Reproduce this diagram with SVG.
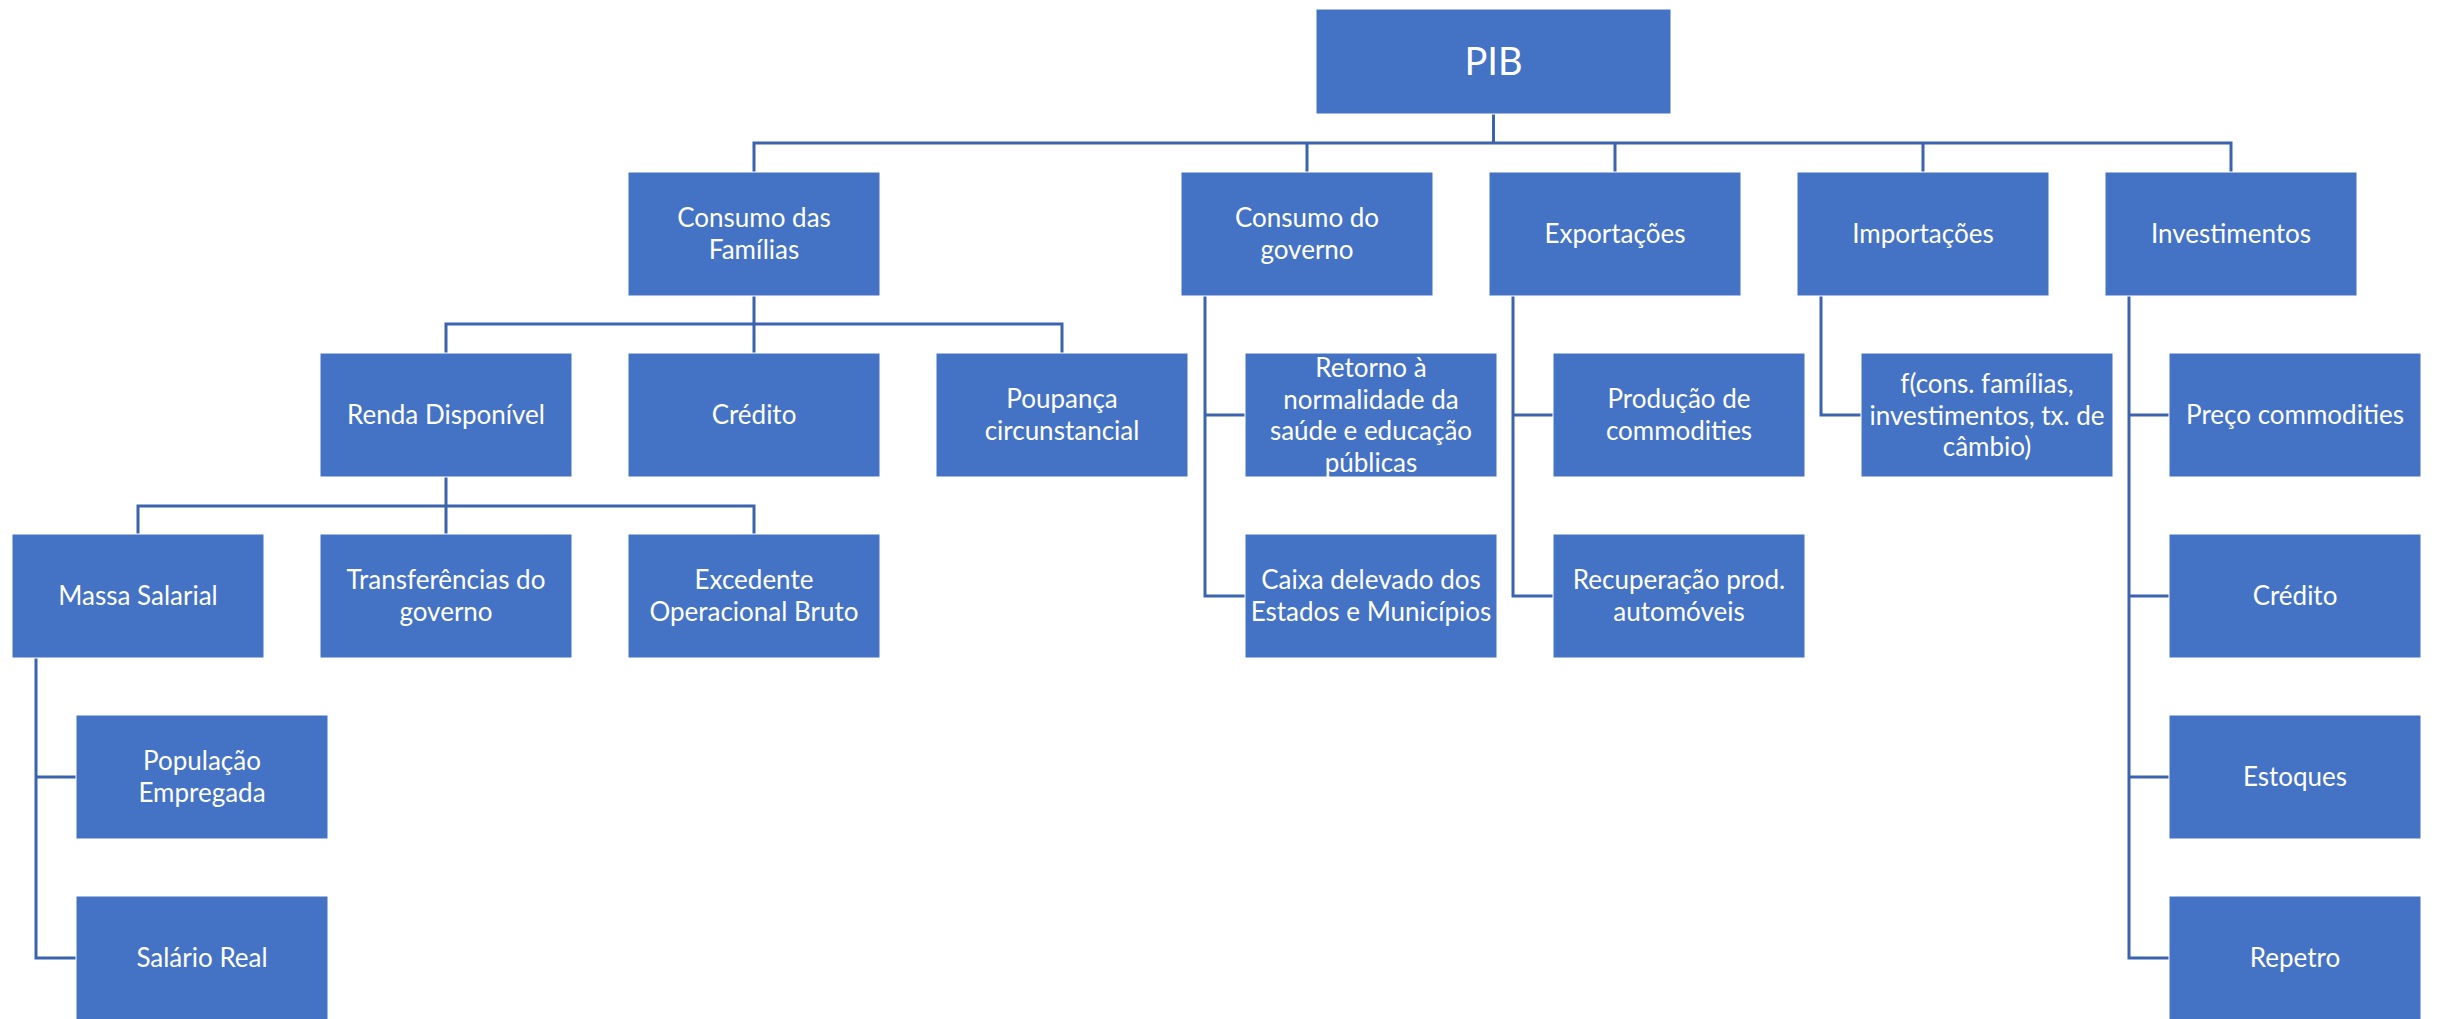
<svg xmlns="http://www.w3.org/2000/svg" width="2440" height="1019" viewBox="0 0 2440 1019">
<style>
.b{fill:#4472C4;stroke:#ffffff;stroke-width:1}
.t{font-family:Lato,"Open Sans","Liberation Sans",sans-serif;font-size:26px;fill:#ffffff;text-anchor:middle}
.big{font-size:38px}
.c{fill:none;stroke:#3C64AE;stroke-width:3}
</style>
<rect width="2440" height="1019" fill="#ffffff"/>
<g id="connectors" class="c">
<path d="M1493.5 114V143M754 172V143H2231V172M1307 143V172M1615 143V172M1923 143V172"/>
<path d="M754 296V324M446 353V324H1062V353M754 324V353"/>
<path d="M446 477V506M138 534V506H754V534M446 506V534"/>
<path d="M36 658V958H76M36 777H76"/>
<path d="M1205 296V596H1245M1205 415H1245"/>
<path d="M1513 296V596H1553M1513 415H1553"/>
<path d="M1821 296V415H1861"/>
<path d="M2129 296V958H2169M2129 415H2169M2129 596H2169M2129 777H2169"/>
</g>
<g id="pib"><rect class="b" x="1316" y="9" width="355" height="105"/><text class="t big" x="1493.5" y="75">PIB</text></g>
<g id="consumo-familias"><rect class="b" x="628" y="172" width="252" height="124"/><text class="t" x="754" y="227">Consumo das<tspan x="754" dy="31.6">Famílias</tspan></text></g>
<g id="consumo-governo"><rect class="b" x="1181" y="172" width="252" height="124"/><text class="t" x="1307" y="227">Consumo do<tspan x="1307" dy="31.6">governo</tspan></text></g>
<g id="exportacoes"><rect class="b" x="1489" y="172" width="252" height="124"/><text class="t" x="1615" y="243">Exportações</text></g>
<g id="importacoes"><rect class="b" x="1797" y="172" width="252" height="124"/><text class="t" x="1923" y="243">Importações</text></g>
<g id="investimentos"><rect class="b" x="2105" y="172" width="252" height="124"/><text class="t" x="2231" y="243">Investimentos</text></g>
<g id="renda"><rect class="b" x="320" y="353" width="252" height="124"/><text class="t" x="446" y="424">Renda Disponível</text></g>
<g id="credito1"><rect class="b" x="628" y="353" width="252" height="124"/><text class="t" x="754" y="424">Crédito</text></g>
<g id="poupanca"><rect class="b" x="936" y="353" width="252" height="124"/><text class="t" x="1062" y="408">Poupança<tspan x="1062" dy="31.6">circunstancial</tspan></text></g>
<g id="retorno"><rect class="b" x="1245" y="353" width="252" height="124"/><text class="t" x="1371" y="377">Retorno à<tspan x="1371" dy="31.6">normalidade da</tspan><tspan x="1371" dy="31.6">saúde e educação</tspan><tspan x="1371" dy="31.6">públicas</tspan></text></g>
<g id="producao"><rect class="b" x="1553" y="353" width="252" height="124"/><text class="t" x="1679" y="408">Produção de<tspan x="1679" dy="31.6">commodities</tspan></text></g>
<g id="fcons"><rect class="b" x="1861" y="353" width="252" height="124"/><text class="t" x="1987" y="393">f(cons. famílias,<tspan x="1987" dy="31.6">investimentos, tx. de</tspan><tspan x="1987" dy="31.6">câmbio)</tspan></text></g>
<g id="preco"><rect class="b" x="2169" y="353" width="252" height="124"/><text class="t" x="2295" y="424">Preço commodities</text></g>
<g id="massa"><rect class="b" x="12" y="534" width="252" height="124"/><text class="t" x="138" y="605">Massa Salarial</text></g>
<g id="transferencias"><rect class="b" x="320" y="534" width="252" height="124"/><text class="t" x="446" y="589">Transferências do<tspan x="446" dy="31.6">governo</tspan></text></g>
<g id="excedente"><rect class="b" x="628" y="534" width="252" height="124"/><text class="t" x="754" y="589">Excedente<tspan x="754" dy="31.6">Operacional Bruto</tspan></text></g>
<g id="caixa"><rect class="b" x="1245" y="534" width="252" height="124"/><text class="t" x="1371" y="589">Caixa delevado dos<tspan x="1371" dy="31.6">Estados e Municípios</tspan></text></g>
<g id="recuperacao"><rect class="b" x="1553" y="534" width="252" height="124"/><text class="t" x="1679" y="589">Recuperação prod.<tspan x="1679" dy="31.6">automóveis</tspan></text></g>
<g id="credito2"><rect class="b" x="2169" y="534" width="252" height="124"/><text class="t" x="2295" y="605">Crédito</text></g>
<g id="populacao"><rect class="b" x="76" y="715" width="252" height="124"/><text class="t" x="202" y="770">População<tspan x="202" dy="31.6">Empregada</tspan></text></g>
<g id="estoques"><rect class="b" x="2169" y="715" width="252" height="124"/><text class="t" x="2295" y="786">Estoques</text></g>
<g id="salario"><rect class="b" x="76" y="896" width="252" height="124"/><text class="t" x="202" y="967">Salário Real</text></g>
<g id="repetro"><rect class="b" x="2169" y="896" width="252" height="124"/><text class="t" x="2295" y="967">Repetro</text></g>
</svg>
